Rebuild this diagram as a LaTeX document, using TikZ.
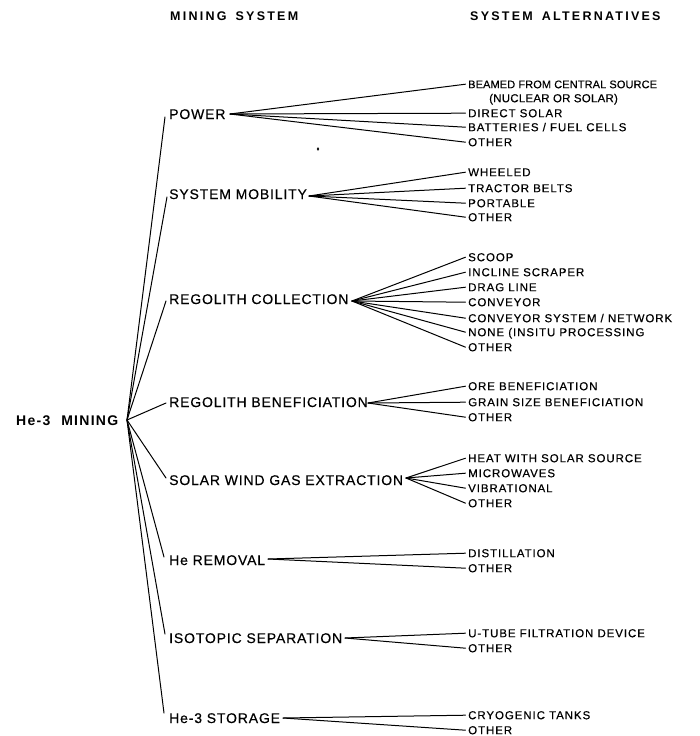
\documentclass[tikz,border=0pt]{standalone}
\usepackage{fontspec}
\setmainfont{Liberation Sans}
\begin{document}
\begin{tikzpicture}[x=1pt,y=-1pt,
  hd/.style={anchor=base west,inner sep=0pt,font=\fontsize{12.5}{14}\selectfont\bfseries\addfontfeature{LetterSpace=18}},
  rootlbl/.style={anchor=base west,inner sep=0pt,font=\fontsize{14}{16}\selectfont\bfseries\addfontfeature{LetterSpace=9}},
  sys/.style={anchor=base west,inner sep=0pt,font=\fontsize{14}{16}\selectfont\addfontfeature{LetterSpace=6,FakeBold=0.4}},
  alt/.style={anchor=base west,inner sep=0pt,font=\fontsize{11.5}{13}\selectfont\addfontfeature{LetterSpace=8,FakeBold=0.4}},
  conn/.style={line width=1pt,line cap=round}]
\useasboundingbox (0,0) rectangle (699,736);

% headers
\node[hd] (h1) at (170,20) {MINING\hspace{9pt}SYSTEM};
\node[hd] (h2) at (470,20) {SYSTEM\hspace{9pt}ALTERNATIVES};

% root
\node[rootlbl] (root) at (16,425) {He-3\hspace{11pt}MINING};
\coordinate (hub) at (127,420);

% mining system nodes
\node[sys] (pw) at (169,119) {POWER};
\node[sys] (mob) at (169,199) {SYSTEM MOBILITY};
\node[sys] (col) at (169,304) {REGOLITH COLLECTION};
\node[sys] (ben) at (169,407) {REGOLITH BENEFICIATION};
\node[sys] (swg) at (169,485) {SOLAR WIND GAS EXTRACTION};
\node[sys] (rem) at (169,565) {He REMOVAL};
\node[sys] (iso) at (169,643) {ISOTOPIC SEPARATION};
\node[sys] (sto) at (169,723) {He-3 STORAGE};

\draw[conn] (hub) -- ([shift={(-4pt,2pt)}]pw.base west);
\draw[conn] (hub) -- ([shift={(-2pt,2pt)}]mob.base west);
\draw[conn] (hub) -- ([shift={(-3pt,3pt)}]col.base west);
\draw[conn] (hub) -- ([shift={(-3pt,4pt)}]ben.base west);
\draw[conn] (hub) -- ([shift={(-3pt,7pt)}]swg.base west);
\draw[conn] (hub) -- ([shift={(-5pt,8pt)}]rem.base west);
\draw[conn] (hub) -- ([shift={(-4pt,9pt)}]iso.base west);
\draw[conn] (hub) -- ([shift={(-5pt,10pt)}]sto.base west);

% apexes
\coordinate (pwA) at (230,114);
\coordinate (mobA) at (309,196);
\coordinate (colA) at (352,301);
\coordinate (benA) at (368,403);
\coordinate (swgA) at (406,478);
\coordinate (remA) at (268,559);
\coordinate (isoA) at (345,638);
\coordinate (stoA) at (283,718);

% POWER alternatives
\node[alt,font=\fontsize{11}{13}\selectfont\addfontfeature{LetterSpace=1,FakeBold=0.4}] (p1) at (468,88.2) {BEAMED FROM CENTRAL SOURCE};
\node[alt,font=\fontsize{11.5}{13}\selectfont\addfontfeature{LetterSpace=2,FakeBold=0.4}] (p1b) at (489,102.2) {(NUCLEAR OR SOLAR)};
\node[alt] (p2) at (468,117.2) {DIRECT SOLAR};
\node[alt] (p3) at (468,131.2) {BATTERIES / FUEL CELLS};
\node[alt] (p4) at (468,146.2) {OTHER};
\foreach \n in {p1,p2,p3,p4}
  \draw[conn] (pwA) -- ([shift={(-2.5pt,4pt)}]\n.base west);

% MOBILITY alternatives
\node[alt] (m1) at (468,176.2) {WHEELED};
\node[alt] (m2) at (468,192.2) {TRACTOR BELTS};
\node[alt] (m3) at (468,207.2) {PORTABLE};
\node[alt] (m4) at (468,221.2) {OTHER};
\foreach \n in {m1,m2,m3,m4}
  \draw[conn] (mobA) -- ([shift={(-2.5pt,4pt)}]\n.base west);

% COLLECTION alternatives
\node[alt] (c1) at (468,261.2) {SCOOP};
\node[alt] (c2) at (468,276.2) {INCLINE SCRAPER};
\node[alt] (c3) at (468,291.2) {DRAG LINE};
\node[alt] (c4) at (468,306.2) {CONVEYOR};
\node[alt] (c5) at (468,322.2) {CONVEYOR SYSTEM / NETWORK};
\node[alt] (c6) at (468,336.2) {NONE (INSITU PROCESSING};
\node[alt] (c7) at (468,351.2) {OTHER};
\foreach \n in {c1,c2,c3,c4,c5,c6,c7}
  \draw[conn] (colA) -- ([shift={(-2.5pt,4pt)}]\n.base west);

% BENEFICIATION alternatives
\node[alt] (b1) at (468,390.2) {ORE BENEFICIATION};
\node[alt] (b2) at (468,406.2) {GRAIN SIZE BENEFICIATION};
\node[alt] (b3) at (468,421.2) {OTHER};
\foreach \n in {b1,b2,b3}
  \draw[conn] (benA) -- ([shift={(-2.5pt,4pt)}]\n.base west);

% SOLAR WIND alternatives
\node[alt] (s1) at (468,462.2) {HEAT WITH SOLAR SOURCE};
\node[alt] (s2) at (468,477.2) {MICROWAVES};
\node[alt] (s3) at (468,492.2) {VIBRATIONAL};
\node[alt] (s4) at (468,507.2) {OTHER};
\foreach \n in {s1,s2,s3,s4}
  \draw[conn] (swgA) -- ([shift={(-2.5pt,4pt)}]\n.base west);

% He REMOVAL alternatives
\node[alt] (r1) at (468,557.2) {DISTILLATION};
\node[alt] (r2) at (468,572.2) {OTHER};
\foreach \n in {r1,r2}
  \draw[conn] (remA) -- ([shift={(-2.5pt,4pt)}]\n.base west);

% ISOTOPIC alternatives
\node[alt] (i1) at (468,637.2) {U-TUBE FILTRATION DEVICE};
\node[alt] (i2) at (468,652.2) {OTHER};
\foreach \n in {i1,i2}
  \draw[conn] (isoA) -- ([shift={(-2.5pt,4pt)}]\n.base west);

% STORAGE alternatives
\node[alt] (t1) at (468,719.2) {CRYOGENIC TANKS};
\node[alt] (t2) at (468,734.2) {OTHER};
\foreach \n in {t1,t2}
  \draw[conn] (stoA) -- ([shift={(-2.5pt,4pt)}]\n.base west);

% small speck
\fill (318,149) ellipse (1.2 and 1.8);
\end{tikzpicture}
\end{document}
